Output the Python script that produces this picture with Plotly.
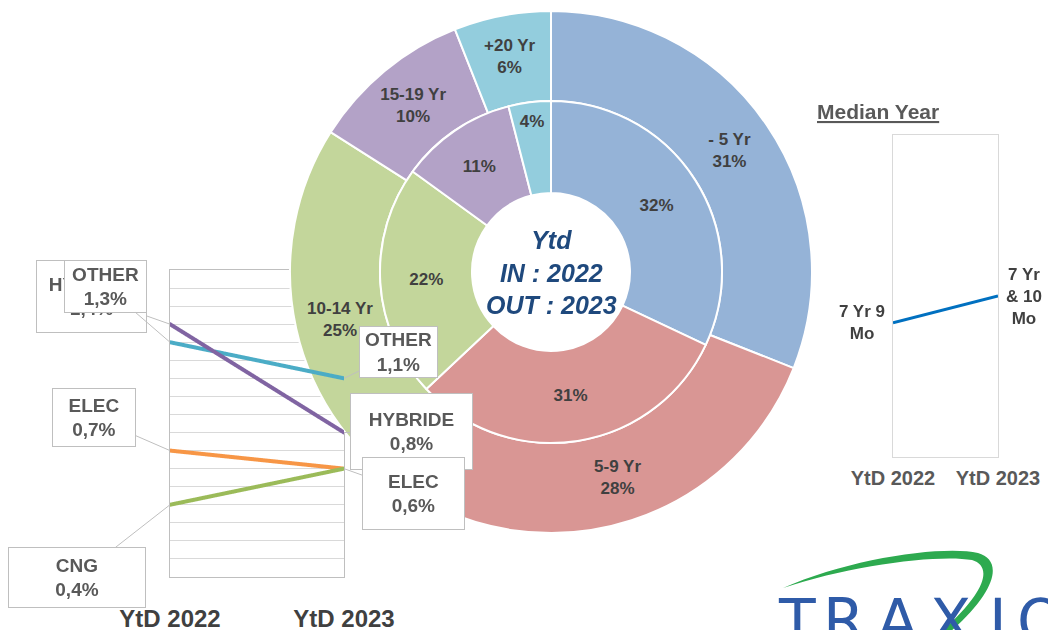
import plotly.graph_objects as go

# ---------------- data ----------------
age_groups = ["- 5 Yr", "5-9 Yr", "10-14 Yr", "15-19 Yr", "+20 Yr"]
share_2022 = [32, 31, 22, 11, 4]      # inner ring (IN : 2022)
share_2023 = [31, 28, 25, 10, 6]      # outer ring (OUT : 2023)
age_colors = ["#95B3D7", "#D99694", "#C3D69B", "#B3A2C7", "#93CDDD"]

periods = ["YtD 2022", "YtD 2023"]
energy_types = ["OTHER", "HYBRIDE", "ELEC", "CNG"]
energy_2022 = [1.3, 1.4, 0.7, 0.4]
energy_2023 = [1.1, 0.8, 0.6, 0.6]
energy_colors = ["#4BACC6", "#8064A2", "#F79646", "#9BBB59"]

median_age = [7 + 9 / 12, 7 + 10 / 12]
median_labels = ["7 Yr 9<br>Mo", "7 Yr<br>& 10<br>Mo"]

W, H = 1048, 630
FONT = "Liberation Sans, Arial, sans-serif"


def px(x):
    return x / W


def py(y):
    return 1 - y / H


fig = go.Figure()

# ---------------- nested donut ----------------
cx, cy, R_out, R_in, R_hole = 551, 272, 261, 171, 79
fig.add_trace(go.Pie(
    labels=age_groups, values=share_2023, sort=False, direction="clockwise", rotation=0,
    hole=R_in / R_out,
    domain=dict(x=[px(cx - R_out), px(cx + R_out)], y=[py(cy + R_out), py(cy - R_out)]),
    marker=dict(colors=age_colors, line=dict(color="white", width=2)),
    textinfo="none", texttemplate="<b>%{label}<br>%{value}%</b>",
    textposition="inside", insidetextorientation="horizontal",
    textfont=dict(family=FONT, size=17, color="#404040"),
    showlegend=False, hoverinfo="skip",
))
fig.add_trace(go.Pie(
    labels=age_groups, values=share_2022, sort=False, direction="clockwise", rotation=0,
    hole=R_hole / R_in,
    domain=dict(x=[px(cx - R_in), px(cx + R_in)], y=[py(cy + R_in), py(cy - R_in)]),
    marker=dict(colors=age_colors, line=dict(color="white", width=2)),
    textinfo="none", texttemplate="<b>%{value}%</b>",
    textposition="inside", insidetextorientation="horizontal",
    textfont=dict(family=FONT, size=17, color="#404040"),
    showlegend=False, hoverinfo="skip",
))

# ---------------- left energy chart ----------------
for name, v22, v23, col in zip(energy_types, energy_2022, energy_2023, energy_colors):
    fig.add_trace(go.Scattergl(
        x=[0, 1], y=[v22, v23], mode="lines", name=name,
        line=dict(color=col, width=4), showlegend=False, hoverinfo="skip",
        xaxis="x", yaxis="y",
    ))

# ---------------- median chart ----------------
fig.add_trace(go.Scatter(
    x=[0, 1], y=median_age, mode="lines",
    line=dict(color="#0070C0", width=3), cliponaxis=False,
    showlegend=False, hoverinfo="skip", xaxis="x2", yaxis="y2",
))

annotations = []
for i, (val, lab) in enumerate(zip(median_age, median_labels)):
    annotations.append(dict(
        x=i, y=val, xref="x2", yref="y2", showarrow=False, text=f"<b>{lab}</b>",
        xanchor="right" if i == 0 else "left", xshift=-6 if i == 0 else 6,
        align="center", font=dict(family=FONT, size=17, color="#404040"),
    ))

# ---------------- callouts ----------------
def fmt(v):
    return f"{v:.1f}".replace(".", ",")

# (series index, period index, box center px, box size px)
callouts = [
    (1, 0, (91.5, 296.5), (111, 73)),
    (0, 0, (105.5, 286.5), (83, 53)),
    (2, 0, (94, 417.5), (84, 59)),
    (3, 0, (77, 577.5), (138, 61)),
    (0, 1, (398.5, 352), (79, 52)),
    (1, 1, (411.5, 431.5), (123, 77)),
    (2, 1, (413.5, 493.5), (103, 73)),
]
x0px, x1px, ytop, ybot, ymax = 170, 344, 270, 577, 1.7
for si, pi, (bx, by), (bw, bh) in callouts:
    val = (energy_2022, energy_2023)[pi][si]
    ptx = x0px + pi * (x1px - x0px)
    pty = ybot - val / ymax * (ybot - ytop)
    annotations.append(dict(
        x=pi, y=val, xref="x", yref="y",
        text=f"<b>{energy_types[si]}<br>{fmt(val)}%</b>",
        font=dict(family=FONT, size=19, color="#595959"),
        showarrow=True, arrowhead=0, arrowwidth=1, arrowcolor="#BFBFBF",
        ax=bx - ptx, ay=by - pty, axref="pixel", ayref="pixel",
        bgcolor="white", bordercolor="#BFBFBF", borderwidth=1, borderpad=0,
        width=bw - 2, height=bh - 2, align="center", valign="middle",
    ))

# centre of donut
annotations.append(dict(
    x=px(cx), y=py(cy), xref="paper", yref="paper", showarrow=False,
    text="<b><i>Ytd<br>IN : 2022<br>OUT : 2023</i></b>",
    font=dict(family=FONT, size=25, color="#1F497D"),
))
# median title
annotations.append(dict(
    x=px(941), y=py(98), xref="paper", yref="paper", showarrow=False,
    text="<b><u>Median Year</u></b>",
    font=dict(family=FONT, size=21, color="#595959"),
))
# logo letters
for ch, lx in zip("TRAXIO", [797, 844, 897, 950, 998, 1040]):
    annotations.append(dict(
        x=px(lx), y=py(584), xref="paper", yref="paper", showarrow=False,
        xanchor="center", yanchor="top", text=ch,
        font=dict(family="DejaVu Sans, sans-serif", size=60, color="#2F5BA8"),
    ))

swoosh = [(783, 588), (850, 558), (945, 545), (978, 553), (1003, 560), (998, 590), (950, 632),
          (941, 632), (988, 590), (992, 566), (972, 560), (940, 554), (850, 565), (783, 588)]
P = [f"{px(a)},{py(b)}" for a, b in swoosh]
path = (f"M {P[0]} C {P[1]} {P[2]} {P[3]} C {P[4]} {P[5]} {P[6]} L {P[7]} "
        f"C {P[8]} {P[9]} {P[10]} C {P[11]} {P[12]} {P[13]} Z")

fig.update_layout(
    width=W, height=H, margin=dict(l=0, r=0, t=0, b=0, pad=0, autoexpand=False),
    paper_bgcolor="white", plot_bgcolor="rgba(0,0,0,0)",
    font=dict(family=FONT),
    xaxis=dict(domain=[px(x0px), px(x1px)], range=[0, 1], tickvals=[0, 1], ticktext=periods,
               showline=True, mirror=True, linecolor="#BFBFBF", linewidth=1,
               showgrid=False, zeroline=False, ticks="", ticklabelstandoff=20,
               tickfont=dict(family=FONT, size=24, color="#404040", weight="bold"),
               anchor="y", fixedrange=True, automargin=False),
    yaxis=dict(domain=[py(ybot), py(ytop)], range=[0, ymax], dtick=0.1,
               showgrid=True, gridcolor="#D9D9D9", gridwidth=1, showticklabels=False,
               showline=True, mirror=True, linecolor="#BFBFBF", linewidth=1,
               zeroline=False, anchor="x", fixedrange=True, automargin=False),
    xaxis2=dict(domain=[px(893), px(998)], range=[0, 1], tickvals=[0, 1], ticktext=periods,
                showline=True, mirror=True, linecolor="#D9D9D9", linewidth=1,
                showgrid=False, zeroline=False, ticks="", ticklabelstandoff=3,
                tickfont=dict(family=FONT, size=20, color="#595959", weight="bold"),
                anchor="y2", fixedrange=True, automargin=False),
    yaxis2=dict(domain=[py(457), py(135)], range=[7 + 4 / 12, 8 + 4 / 12],
                showgrid=False, showticklabels=False,
                showline=True, mirror=True, linecolor="#D9D9D9", linewidth=1,
                zeroline=False, anchor="x2", fixedrange=True, automargin=False),
    annotations=annotations,
    shapes=[dict(type="path", xref="paper", yref="paper", path=path,
                 fillcolor="#2DAA4F", line=dict(width=0), layer="above")],
)

fig.write_html("out.html", config={"displayModeBar": False},
               post_script="document.body.style.margin='0';document.body.style.overflow='hidden';")
